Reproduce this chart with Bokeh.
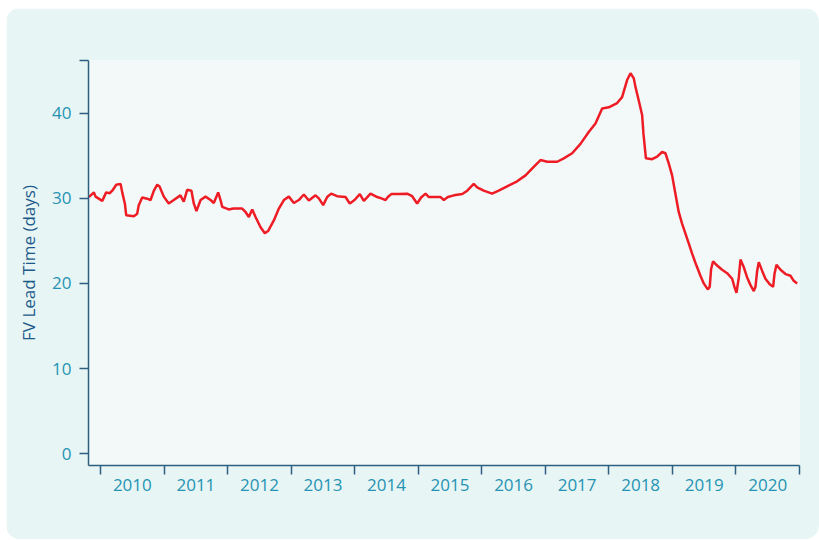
from bokeh.plotting import figure
from bokeh.models import Range1d, FixedTicker
from bokeh.embed import file_html
from bokeh.resources import INLINE

# decimal year of each reading
t = [2009.816, 2009.895, 2009.921, 2010.027, 2010.088, 2010.142, 2010.184, 2010.247,
     2010.315, 2010.341, 2010.382, 2010.404, 2010.524, 2010.576, 2010.601, 2010.655,
     2010.733, 2010.787, 2010.839, 2010.892, 2010.928, 2010.995, 2011.073, 2011.152,
     2011.257, 2011.309, 2011.363, 2011.430, 2011.467, 2011.509, 2011.574, 2011.652,
     2011.731, 2011.782, 2011.851, 2011.888, 2011.915, 2012.017, 2012.090, 2012.228,
     2012.281, 2012.334, 2012.387, 2012.439, 2012.518, 2012.585, 2012.640, 2012.727,
     2012.806, 2012.885, 2012.963, 2013.042, 2013.120, 2013.199, 2013.278, 2013.383,
     2013.435, 2013.504, 2013.566, 2013.629, 2013.723, 2013.855, 2013.922, 2013.997,
     2014.080, 2014.143, 2014.249, 2014.354, 2014.432, 2014.485, 2014.521, 2014.575,
     2014.695, 2014.825, 2014.904, 2014.982, 2015.045, 2015.115, 2015.167, 2015.351,
     2015.403, 2015.466, 2015.560, 2015.692, 2015.771, 2015.873, 2015.927, 2016.030,
     2016.162, 2016.266, 2016.398, 2016.556, 2016.688, 2016.817, 2016.924, 2017.029,
     2017.187, 2017.290, 2017.422, 2017.553, 2017.683, 2017.789, 2017.894, 2017.998,
     2018.130, 2018.208, 2018.287, 2018.340, 2018.392, 2018.418, 2018.470, 2018.523,
     2018.544, 2018.583, 2018.680, 2018.759, 2018.838, 2018.890, 2018.942, 2018.995,
     2019.047, 2019.099, 2019.153, 2019.205, 2019.257, 2019.310, 2019.378, 2019.441,
     2019.493, 2019.556, 2019.587, 2019.609, 2019.640, 2019.703, 2019.782, 2019.861,
     2019.940, 2019.976, 2020.008, 2020.045, 2020.071, 2020.123, 2020.176, 2020.229,
     2020.281, 2020.307, 2020.334, 2020.359, 2020.411, 2020.464, 2020.531, 2020.585,
     2020.606, 2020.638, 2020.701, 2020.780, 2020.858, 2020.909, 2020.963]

# FV lead time in days
lead_days = [30.15, 30.7, 30.2, 29.7, 30.7, 30.6, 30.9, 31.6,
             31.7, 30.7, 29.4, 28.0, 27.9, 28.2, 29.2, 30.1,
             29.96, 29.8, 30.9, 31.6, 31.4, 30.2, 29.4, 29.8,
             30.35, 29.6, 31.0, 30.9, 29.4, 28.5, 29.8, 30.2,
             29.8, 29.45, 30.7, 29.8, 29.0, 28.7, 28.8, 28.8,
             28.4, 27.8, 28.7, 27.8, 26.6, 25.9, 26.2, 27.4,
             28.8, 29.8, 30.2, 29.45, 29.8, 30.45, 29.75, 30.35,
             30.0, 29.2, 30.15, 30.55, 30.25, 30.15, 29.4, 29.8,
             30.5, 29.7, 30.55, 30.15, 29.96, 29.8, 30.15, 30.5,
             30.5, 30.55, 30.25, 29.4, 30.1, 30.55, 30.15, 30.15,
             29.8, 30.15, 30.35, 30.5, 30.9, 31.7, 31.3, 30.9,
             30.55, 30.9, 31.4, 32.0, 32.7, 33.7, 34.5, 34.3,
             34.3, 34.7, 35.3, 36.4, 37.8, 38.8, 40.55, 40.7,
             41.2, 41.9, 43.9, 44.7, 44.1, 43.1, 41.5, 39.8,
             37.6, 34.7, 34.6, 34.9, 35.45, 35.3, 34.1, 32.7,
             30.55, 28.4, 27.0, 25.85, 24.7, 23.5, 22.1, 20.9,
             20.0, 19.3, 19.6, 21.7, 22.6, 22.1, 21.6, 21.2,
             20.55, 19.6, 18.9, 20.7, 22.8, 21.9, 20.7, 19.8,
             19.1, 19.6, 21.5, 22.5, 21.5, 20.55, 19.9, 19.6,
             21.1, 22.2, 21.6, 21.1, 20.9, 20.3, 20.0]

years = list(range(2010, 2021))
year_bounds = list(range(2010, 2022))
y_ticks = [0, 10, 20, 30, 40]

PANEL = "#e7f5f5"
PLOT_BG = "#f2f9f8"
AXIS = "#2d5f80"
TICK_TXT = "#2593b3"
LABEL_TXT = "#1d5a8a"
FONT = "Open Sans"

p = figure(width=813, height=531, output_backend="svg", toolbar_location=None,
           x_range=Range1d(2009.81, 2021.0), y_range=Range1d(-1.4, 46.2),
           min_border_left=82, min_border_right=20, min_border_top=52, min_border_bottom=74)
p.styles = {"border-radius": "14px", "overflow": "hidden",
            "margin-left": "6px", "margin-top": "8px"}
p.background_fill_color = PLOT_BG
p.border_fill_color = PANEL
p.outline_line_color = None
p.grid.visible = False

p.line(t, lead_days, line_color="#ee1c25", line_width=2.5)

# x axis: labels at mid-year, ticks at year boundaries
xa = p.xaxis[0]
xa.ticker = FixedTicker(ticks=[y + 0.5 for y in years], minor_ticks=year_bounds)
xa.major_label_overrides = {y + 0.5: str(y) for y in years}
xa.major_tick_line_color = None
xa.major_tick_out = 9
xa.major_tick_in = 0
xa.minor_tick_line_color = AXIS
xa.minor_tick_out = 9
xa.minor_tick_in = 0
xa.minor_tick_line_width = 1.5
xa.axis_line_color = AXIS
xa.axis_line_width = 1.5
xa.major_label_text_color = TICK_TXT
xa.major_label_text_font = FONT
xa.major_label_text_font_size = "17px"
xa.major_label_standoff = 4

ya = p.yaxis[0]
ya.ticker = FixedTicker(ticks=y_ticks + [46.2], minor_ticks=[])
ya.major_label_overrides = {46.2: ""}
ya.major_tick_out = 9
ya.major_tick_in = 0
ya.major_tick_line_color = AXIS
ya.major_tick_line_width = 1.5
ya.minor_tick_line_color = None
ya.axis_line_color = AXIS
ya.axis_line_width = 1.5
ya.major_label_text_color = TICK_TXT
ya.major_label_text_font = FONT
ya.major_label_text_font_size = "17px"
ya.major_label_standoff = 8
ya.axis_label = "FV Lead Time (days)"
ya.axis_label_text_color = LABEL_TXT
ya.axis_label_text_font = FONT
ya.axis_label_text_font_style = "normal"
ya.axis_label_text_font_size = "17px"
ya.axis_label_standoff = 9

open("out.html", "w").write(file_html(p, INLINE))
